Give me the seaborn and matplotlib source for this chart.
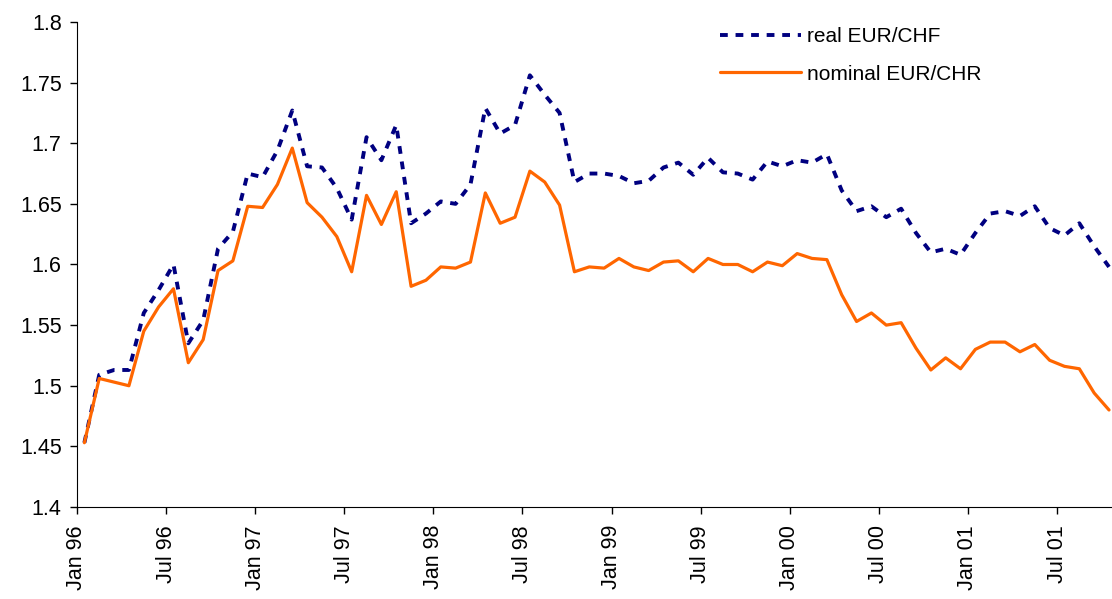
import numpy as np
import pandas as pd
import seaborn as sns
import matplotlib.pyplot as plt

# monthly values, Jan 96 .. Oct 01
real_chf = [1.453, 1.509, 1.513, 1.513, 1.560, 1.579, 1.600, 1.535, 1.554, 1.613,
            1.627, 1.675, 1.672, 1.694, 1.727, 1.681, 1.680, 1.663, 1.637, 1.705,
            1.686, 1.715, 1.634, 1.642, 1.652, 1.650, 1.666, 1.729, 1.708, 1.715,
            1.756, 1.740, 1.725, 1.668, 1.675, 1.675, 1.673, 1.667, 1.669, 1.680,
            1.684, 1.674, 1.688, 1.676, 1.675, 1.670, 1.685, 1.681, 1.686, 1.684,
            1.691, 1.661, 1.644, 1.648, 1.639, 1.646, 1.626, 1.610, 1.613, 1.608,
            1.626, 1.642, 1.644, 1.640, 1.648, 1.630, 1.624, 1.634, 1.615, 1.598]
nominal_chf = [1.453, 1.506, 1.503, 1.500, 1.545, 1.565, 1.580, 1.519, 1.538, 1.595,
               1.603, 1.648, 1.647, 1.666, 1.696, 1.651, 1.639, 1.623, 1.594, 1.657,
               1.633, 1.660, 1.582, 1.587, 1.598, 1.597, 1.602, 1.659, 1.634, 1.639,
               1.677, 1.668, 1.649, 1.594, 1.598, 1.597, 1.605, 1.598, 1.595, 1.602,
               1.603, 1.594, 1.605, 1.600, 1.600, 1.594, 1.602, 1.599, 1.609, 1.605,
               1.604, 1.575, 1.553, 1.560, 1.550, 1.552, 1.531, 1.513, 1.523, 1.514,
               1.530, 1.536, 1.536, 1.528, 1.534, 1.521, 1.516, 1.514, 1.494, 1.480]
tick_labels = ["Jan 96", "Jul 96", "Jan 97", "Jul 97", "Jan 98", "Jul 98",
               "Jan 99", "Jul 99", "Jan 00", "Jul 00", "Jan 01", "Jul 01"]
y_ticks = [1.4, 1.45, 1.5, 1.55, 1.6, 1.65, 1.7, 1.75, 1.8]

df = pd.DataFrame({"month": np.arange(len(real_chf)),
                   "real": real_chf,
                   "nominal": nominal_chf})

sns.set_style("ticks", rc={"axes.edgecolor": "black",
                           "xtick.color": "black",
                           "ytick.color": "black",
                           "text.color": "black"})
plt.rcParams["font.family"] = ["Liberation Sans", "DejaVu Sans"]

fig = plt.figure(figsize=(11.12, 5.99), dpi=100)
ax = fig.add_axes([0.0692, 0.1536, 0.9308, 0.8097])

sns.lineplot(data=df, x="month", y="real", ax=ax, color="#000080",
             linewidth=2.8, label="real EUR/CHF")
ax.lines[-1].set_dashes((2.0, 2.0))
sns.lineplot(data=df, x="month", y="nominal", ax=ax, color="#FF6600",
             linewidth=2.3, label="nominal EUR/CHR")

ax.set_xlim(-0.5, 69.2)
ax.set_ylim(1.4, 1.8)
ax.set_xticks(np.arange(0, len(real_chf), 6) - 0.5)
ax.set_xticklabels(tick_labels, rotation=90, fontsize=15.5)
ax.set_yticks(y_ticks)
ax.set_yticklabels(["{:g}".format(v) for v in y_ticks], fontsize=15.5)
ax.tick_params(axis="both", length=5, width=1)
ax.tick_params(axis="x", pad=8)
ax.tick_params(axis="y", pad=6)
ax.set_xlabel("")
ax.set_ylabel("")
sns.despine(ax=ax, top=True, right=True)

ax.legend(loc="upper left", bbox_to_anchor=(0.621, 0.99), frameon=False,
          fontsize=15, handlelength=3.9, handletextpad=0.3,
          labelspacing=0.9, borderpad=0, borderaxespad=0)

fig.savefig("out.png", dpi=100)
